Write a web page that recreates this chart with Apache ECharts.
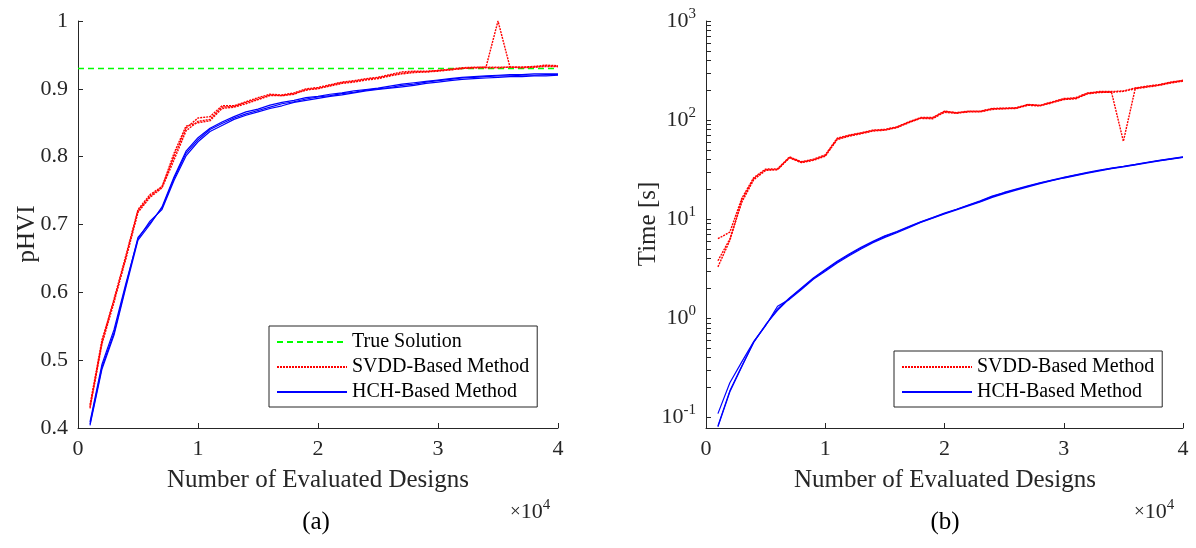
<!DOCTYPE html>
<html>
<head>
<meta charset="utf-8">
<script src="https://cdn.jsdelivr.net/npm/echarts@6/dist/echarts.min.js"></script>
<style>
  html, body { margin: 0; padding: 0; background: #fff; }
  #main { width: 1196px; height: 548px; }
</style>
</head>
<body>
<div id="main"></div>
<script>
// number of evaluated designs
const designs = [1000, 2000, 3000, 4000, 5000, 6000, 7000, 8000, 9000, 10000,
  11000, 12000, 13000, 14000, 15000, 16000, 17000, 18000, 19000, 20000,
  21000, 22000, 23000, 24000, 25000, 26000, 27000, 28000, 29000, 30000,
  31000, 32000, 33000, 34000, 35000, 36000, 37000, 38000, 39000, 40000];

const trueSolution = 0.93;

// (a) pHVI, SVDD runs
const phviSvdd1 = [0.431, 0.527, 0.590, 0.655, 0.722, 0.744, 0.756, 0.800, 0.842, 0.857,
  0.859, 0.875, 0.875, 0.881, 0.887, 0.892, 0.891, 0.894, 0.900, 0.902,
  0.906, 0.910, 0.912, 0.915, 0.917, 0.921, 0.925, 0.926, 0.926, 0.927,
  0.929, 0.931, 0.932, 0.932, 0.932, 0.932, 0.932, 0.933, 0.935, 0.934];
const phviSvdd2 = [0.434, 0.530, 0.588, 0.650, 0.718, 0.740, 0.754, 0.795, 0.838, 0.852,
  0.855, 0.873, 0.874, 0.880, 0.885, 0.891, 0.890, 0.893, 0.898, 0.901,
  0.904, 0.908, 0.910, 0.913, 0.915, 0.919, 0.922, 0.924, 0.925, 0.926,
  0.928, 0.930, 0.931, 0.932, 1.000, 0.932, 0.932, 0.932, 0.934, 0.933];
const phviSvdd3 = [0.429, 0.524, 0.585, 0.652, 0.720, 0.742, 0.755, 0.805, 0.845, 0.850,
  0.853, 0.871, 0.873, 0.878, 0.884, 0.890, 0.890, 0.892, 0.899, 0.900,
  0.905, 0.909, 0.911, 0.914, 0.916, 0.920, 0.923, 0.925, 0.925, 0.927,
  0.928, 0.930, 0.931, 0.931, 0.931, 0.932, 0.931, 0.932, 0.933, 0.933];

// (a) pHVI, HCH runs
const phviHch1 = [0.406, 0.490, 0.540, 0.611, 0.681, 0.702, 0.724, 0.768, 0.805, 0.825,
  0.840, 0.849, 0.857, 0.863, 0.868, 0.873, 0.878, 0.881, 0.885, 0.888,
  0.890, 0.893, 0.895, 0.898, 0.900, 0.902, 0.905, 0.907, 0.910, 0.912,
  0.914, 0.916, 0.917, 0.918, 0.919, 0.919, 0.920, 0.920, 0.921, 0.921];
const phviHch2 = [0.409, 0.494, 0.545, 0.614, 0.679, 0.705, 0.722, 0.765, 0.801, 0.822,
  0.837, 0.846, 0.855, 0.861, 0.866, 0.871, 0.875, 0.880, 0.883, 0.886,
  0.889, 0.891, 0.894, 0.897, 0.899, 0.901, 0.903, 0.905, 0.908, 0.910,
  0.912, 0.914, 0.915, 0.916, 0.917, 0.918, 0.918, 0.919, 0.919, 0.920];
const phviHch3 = [0.404, 0.487, 0.537, 0.608, 0.677, 0.700, 0.726, 0.770, 0.808, 0.828,
  0.842, 0.851, 0.859, 0.866, 0.870, 0.876, 0.880, 0.883, 0.887, 0.889,
  0.892, 0.894, 0.897, 0.899, 0.901, 0.904, 0.907, 0.909, 0.911, 0.913,
  0.915, 0.917, 0.918, 0.919, 0.920, 0.921, 0.921, 0.922, 0.922, 0.922];

// (b) time [s], SVDD runs
const timeSvdd1 = [3.3, 6.1, 15.5, 25.6, 31.5, 31.5, 42, 37.6, 39.7, 43.9,
  64.6, 69.8, 73.6, 78.4, 79.7, 84.7, 95, 105, 105, 122,
  118, 122, 122, 130, 131, 132, 143, 140, 151, 163,
  166, 186, 192, 192, 61, 209, 218, 226, 240, 250];
const timeSvdd2 = [3.8, 6.3, 14.8, 25.0, 31.0, 31.8, 41.5, 37.2, 39.2, 43.2,
  63.5, 68.8, 72.8, 77.5, 79.0, 83.8, 94, 104, 103, 120,
  117, 121, 121, 128, 130, 131, 141, 139, 149, 161,
  164, 184, 190, 191, 195, 207, 215, 224, 237, 247];
const timeSvdd3 = [6.35, 7.4, 16.2, 26.2, 32.0, 32.2, 42.5, 38.0, 40.2, 44.5,
  65.5, 70.5, 74.5, 79.2, 80.5, 85.5, 96, 106, 106, 123,
  119, 123, 123, 131, 132, 133, 144, 141, 152, 165,
  168, 188, 194, 194, 197, 211, 220, 228, 242, 252];

// (b) time [s], HCH runs
const timeHch1 = [0.080, 0.181, 0.323, 0.577, 0.860, 1.20, 1.58, 1.99, 2.51, 3.05,
  3.69, 4.38, 5.11, 5.88, 6.70, 7.41, 8.32, 9.34, 10.3, 11.4,
  12.5, 13.8, 15.1, 16.9, 18.4, 19.9, 21.5, 23.1, 24.6, 26.2,
  27.8, 29.4, 31.0, 32.6, 34.0, 35.5, 37.3, 39.0, 40.6, 42.2];
const timeHch2 = [0.109, 0.223, 0.363, 0.580, 0.840, 1.32, 1.55, 1.95, 2.47, 2.98,
  3.60, 4.28, 5.00, 5.78, 6.55, 7.30, 8.20, 9.25, 10.2, 11.3,
  12.4, 13.6, 14.9, 16.6, 18.1, 19.6, 21.2, 22.8, 24.4, 26.0,
  27.5, 29.1, 30.7, 32.3, 33.7, 35.2, 37.0, 38.7, 40.3, 41.9];
const timeHch3 = [0.082, 0.185, 0.330, 0.570, 0.850, 1.24, 1.60, 2.02, 2.55, 3.10,
  3.76, 4.45, 5.20, 5.97, 6.80, 7.50, 8.40, 9.42, 10.4, 11.5,
  12.6, 13.9, 15.3, 17.1, 18.6, 20.1, 21.7, 23.3, 24.8, 26.4,
  28.0, 29.6, 31.2, 32.8, 34.2, 35.7, 37.5, 39.2, 40.8, 42.5];

// log axis ticks
const logMajor = [0.1, 1, 10, 100, 1000];
const logTicks = [0.1, 0.2, 0.3, 0.4, 0.5, 0.6, 0.7, 0.8, 0.9,
  1, 2, 3, 4, 5, 6, 7, 8, 9,
  10, 20, 30, 40, 50, 60, 70, 80, 90,
  100, 200, 300, 400, 500, 600, 700, 800, 900, 1000];

const FONT = "Liberation Serif";
const INK = "#262626";

let pairs = (ys) => designs.map((x, i) => [x, ys[i]]);

let redLine = (name, ys, axis) => ({
  name: name,
  type: "line",
  xAxisIndex: axis,
  yAxisIndex: axis,
  data: pairs(ys),
  symbol: "none",
  lineStyle: { color: "#ff0000", width: 1.4, type: [2, 1] },
  itemStyle: { color: "#ff0000" },
});
let blueLine = (name, ys, axis) => ({
  name: name,
  type: "line",
  xAxisIndex: axis,
  yAxisIndex: axis,
  data: pairs(ys),
  symbol: "none",
  lineStyle: { color: "#0000ff", width: 1.2 },
  itemStyle: { color: "#0000ff" },
});

let xAxisOf = (grid) => ({
  type: "value",
  gridIndex: grid,
  min: 0,
  max: 40000,
  interval: 10000,
  axisLine: { show: true, lineStyle: { color: INK, width: 1 } },
  axisTick: { show: true, inside: true, length: 5, lineStyle: { color: INK } },
  axisLabel: {
    margin: 10,
    fontFamily: FONT,
    fontSize: 22,
    color: INK,
    formatter: (v) => String(v / 10000),
  },
  splitLine: { show: false },
});

let sup = (e) => "{b|10}{s|" + e + "}";

let legendOf = (left, top, names) => ({
  orient: "vertical",
  left: left,
  top: top,
  data: names,
  itemWidth: 70,
  itemHeight: 12,
  itemGap: 5,
  padding: [6, 8, 5, 7],
  borderColor: INK,
  borderWidth: 1,
  backgroundColor: "#fff",
  itemStyle: { opacity: 0 },
  textStyle: { fontFamily: FONT, fontSize: 20, color: "#000" },
  selectedMode: false,
});

let superText = (x, y) => ({
  type: "text",
  x: x,
  y: y,
  style: {
    text: "{m|\u00d7}{b|10}{s|4}",
    verticalAlign: "middle",
    rich: {
      m: { fontFamily: FONT, fontSize: 19, fill: INK },
      b: { fontFamily: FONT, fontSize: 22, fill: INK },
      s: { fontFamily: FONT, fontSize: 15, fill: INK, padding: [0, 0, 14, 0] },
    },
  },
});

const chart = echarts.init(document.getElementById("main"), null, { renderer: "canvas" });
const option = {
  backgroundColor: "#fff",
  animation: false,
  textStyle: { fontFamily: FONT },
  grid: [
    { left: 78, top: 21, width: 480, height: 407, containLabel: false, outerBoundsMode: "none" },
    { left: 706, top: 21, width: 477, height: 407, containLabel: false, outerBoundsMode: "none" },
  ],
  xAxis: [xAxisOf(0), xAxisOf(1)],
  yAxis: [
    {
      type: "value",
      gridIndex: 0,
      min: 0.4,
      max: 1,
      interval: 0.1,
      axisLine: { show: true, lineStyle: { color: INK, width: 1 } },
      axisTick: { show: true, inside: true, length: 5, lineStyle: { color: INK } },
      axisLabel: {
        margin: 10,
        fontFamily: FONT,
        fontSize: 22,
        color: INK,
        formatter: (v) => String(+v.toFixed(1)),
      },
      splitLine: { show: false },
    },
    {
      type: "log",
      logBase: 10,
      gridIndex: 1,
      min: 0.078,
      max: 1000,
      axisLine: { show: true, lineStyle: { color: INK, width: 1 } },
      axisTick: {
        show: true,
        inside: true,
        length: 5,
        customValues: logTicks,
        lineStyle: { color: INK },
      },
      axisLabel: {
        margin: 10,
        fontFamily: FONT,
        customValues: logMajor,
        formatter: (v) => sup(Math.round(Math.log10(v))),
        rich: {
          b: { fontFamily: FONT, fontSize: 22, color: INK },
          s: { fontFamily: FONT, fontSize: 15, color: INK, padding: [0, 0, 14, 0] },
        },
      },
      splitLine: { show: false },
    },
  ],
  legend: [
    legendOf(269, 326, ["True Solution", "SVDD-Based Method", "HCH-Based Method"]),
    legendOf(894, 351, ["SVDD-Based Method", "HCH-Based Method"]),
  ],
  series: [
    {
      name: "True Solution",
      type: "line",
      xAxisIndex: 0,
      yAxisIndex: 0,
      data: [[0, trueSolution], [40000, trueSolution]],
      symbol: "none",
      lineStyle: { color: "#00ff00", width: 1.4, type: [6, 4] },
      itemStyle: { color: "#00ff00" },
      z: 1,
    },
    redLine("SVDD-Based Method", phviSvdd1, 0),
    redLine("SVDD-Based Method", phviSvdd2, 0),
    redLine("SVDD-Based Method", phviSvdd3, 0),
    blueLine("HCH-Based Method", phviHch1, 0),
    blueLine("HCH-Based Method", phviHch2, 0),
    blueLine("HCH-Based Method", phviHch3, 0),
    redLine("SVDD-Based Method", timeSvdd1, 1),
    redLine("SVDD-Based Method", timeSvdd2, 1),
    redLine("SVDD-Based Method", timeSvdd3, 1),
    blueLine("HCH-Based Method", timeHch1, 1),
    blueLine("HCH-Based Method", timeHch2, 1),
    blueLine("HCH-Based Method", timeHch3, 1),
  ],
  graphic: [
    {
      type: "text",
      x: 27,
      y: 234,
      rotation: Math.PI / 2,
      style: { text: "pHVI", font: "25px " + FONT, fill: INK, align: "center", verticalAlign: "middle" },
    },
    {
      type: "text",
      x: 648,
      y: 224,
      rotation: Math.PI / 2,
      style: { text: "Time [s]", font: "25px " + FONT, fill: INK, align: "center", verticalAlign: "middle" },
    },
    {
      type: "text",
      x: 318,
      y: 480,
      style: { text: "Number of Evaluated Designs", font: "25px " + FONT, fill: INK, align: "center", verticalAlign: "middle" },
    },
    {
      type: "text",
      x: 945,
      y: 480,
      style: { text: "Number of Evaluated Designs", font: "25px " + FONT, fill: INK, align: "center", verticalAlign: "middle" },
    },
    superText(510, 512),
    superText(1134, 512),
    {
      type: "text",
      x: 316,
      y: 522,
      style: { text: "(a)", font: "25px " + FONT, fill: "#000", align: "center", verticalAlign: "middle" },
    },
    {
      type: "text",
      x: 945,
      y: 522,
      style: { text: "(b)", font: "25px " + FONT, fill: "#000", align: "center", verticalAlign: "middle" },
    },
  ],
};
chart.setOption(option);
</script>
</body>
</html>
